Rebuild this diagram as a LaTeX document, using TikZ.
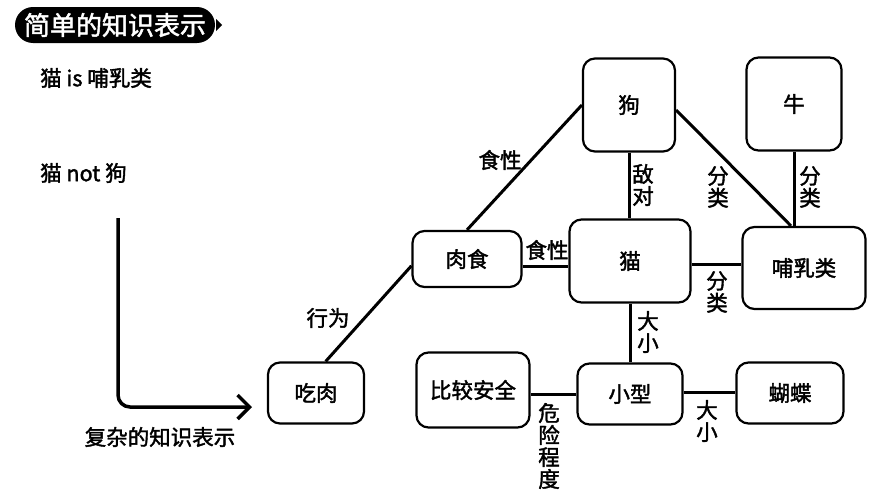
\documentclass[tikz,border=0pt]{standalone}
\usepackage{fontspec}
\setmainfont{Noto Sans CJK SC}[FakeBold=1.8]
\usetikzlibrary{arrows.meta,calc}
\begin{document}
\begin{tikzpicture}[x=1pt,y=-1pt,
  txt/.style={font=\fontsize{21.5}{22}\selectfont},
  box/.style={txt,draw,line width=2.2pt,rounded corners=12pt,inner sep=0pt},
  lbl/.style={txt,inner sep=0pt,align=center},
  edge/.style={line width=3pt}]
\useasboundingbox (0,0) rectangle (871,498);
% title
\node[fill=black,text=white,rounded corners=18pt,minimum width=200pt,minimum height=36pt,inner sep=0pt,font=\fontsize{26}{28}\selectfont] (title) at (115,25) {简单的知识表示};
\fill (title.east) ++(1,-6) -- ++(6,6) -- ++(-6,6) -- cycle;
% left texts
\node[txt,anchor=west,inner sep=0pt] (t1) at (40,78) {猫 is 哺乳类};
\node[txt,anchor=west,inner sep=0pt] (t2) at (40,173) {猫 not 狗};
\node[txt,inner sep=0pt] (t3) at (160,437) {复杂的知识表示};
\coordinate (ls) at (118,218);
\coordinate (le) at (252,407);
% nodes
\node[box,minimum width=96pt,minimum height=61pt] (chi) at (316,393) {吃肉};
\node[box,minimum width=109pt,minimum height=56pt] (rou) at (467,259) {肉食};
\node[box,minimum width=92pt,minimum height=93pt] (gou) at (629,105) {狗};
\node[box,minimum width=95pt,minimum height=93pt] (niu) at (794,104) {牛};
\node[box,minimum width=121pt,minimum height=83pt] (mao) at (630,261) {猫};
\node[box,minimum width=123pt,minimum height=82pt] (bu) at (804,268) {哺乳类};
\node[box,minimum width=113pt,minimum height=75pt] (bi) at (473,390) {比较安全};
\node[box,minimum width=105pt,minimum height=61pt] (xiao) at (630,394) {小型};
\node[box,minimum width=107pt,minimum height=61pt] (hu) at (790,393) {蝴蝶};
% L arrow
\draw[line width=3.5pt,rounded corners=12pt,-{Straight Barb[length=12pt,width=24pt]}] (ls) |- (le);
% helper coordinates
\coordinate (m) at (bu.north -| niu.south);
\coordinate (ra) at ($(rou.east)+(0,7)$);
\coordinate (ma) at ($(mao.east)+(0,3)$);
\coordinate (xa) at ($(xiao.east)+(0,-2)$);
\coordinate (ga) at ($(gou.east)+(0,5)$);
\coordinate (mb) at ($(m)+(-3,0)$);
% edges
\draw[edge] (chi.73) -- (rou.187);
\draw[edge] (rou.north) -- (gou.west);
\draw[edge] (ra) -- (ra -| mao.west);
\draw[edge] (gou.south) -- (gou.south |- mao.north);
\draw[edge] (ga) -- (mb);
\draw[edge] (niu.south) -- (m);
\draw[edge] (ma) -- (ma -| bu.west);
\draw[edge] (mao.south) -- (mao.south |- xiao.north);
\draw[edge] (xiao.west) -- (xiao.west -| bi.east);
\draw[edge] (xa) -- (xa -| hu.west);
% labels
\node[lbl] (l1) at (328,318) {行为};
\node[lbl] (l2) at (500,160) {食性};
\node[lbl] (l3) at (547,250) {食性};
\node[lbl] (l4) at (643,185) {敌\\对};
\node[lbl] (l5) at (718,187) {分\\类};
\node[lbl] (l6) at (810,187) {分\\类};
\node[lbl] (l7) at (717,292) {分\\类};
\node[lbl] (l8) at (648,332) {大\\小};
\node[lbl] (l9) at (549,446) {危\\险\\程\\度};
\node[lbl] (l10) at (707,421) {大\\小};
\end{tikzpicture}
\end{document}
